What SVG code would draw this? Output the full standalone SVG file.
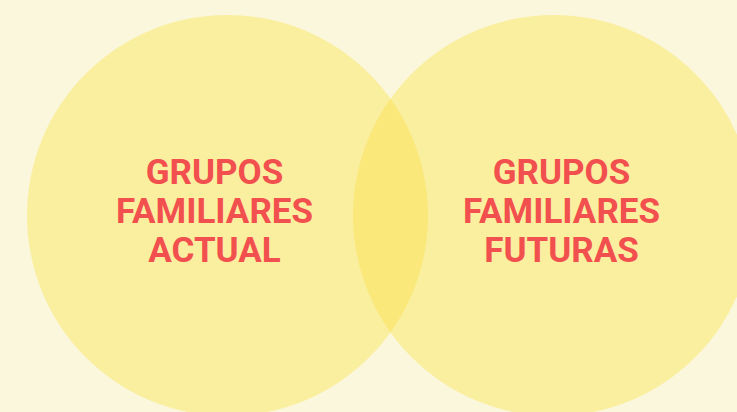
<svg xmlns="http://www.w3.org/2000/svg" width="737" height="412" viewBox="0 0 737 412">
<style>
.c{fill:#F9E243;fill-opacity:0.4}
.t{font-family:Roboto,"Liberation Sans",sans-serif;font-weight:bold;font-size:35px;fill:#F2504E;text-anchor:middle}
</style>
<rect width="737" height="412" fill="#FBF7DC"/>
<g id="left">
<circle class="c" cx="227.5" cy="215.5" r="200.5"/>
<text class="t" x="214.5" y="184">GRUPOS</text>
<text class="t" x="214.5" y="223">FAMILIARES</text>
<text class="t" x="214.5" y="262">ACTUAL</text>
</g>
<g id="right">
<circle class="c" cx="553.5" cy="215.5" r="200.5"/>
<text class="t" x="561.5" y="184">GRUPOS</text>
<text class="t" x="561.5" y="223">FAMILIARES</text>
<text class="t" x="561.5" y="262">FUTURAS</text>
</g>
<g id="connectors"/>
</svg>
